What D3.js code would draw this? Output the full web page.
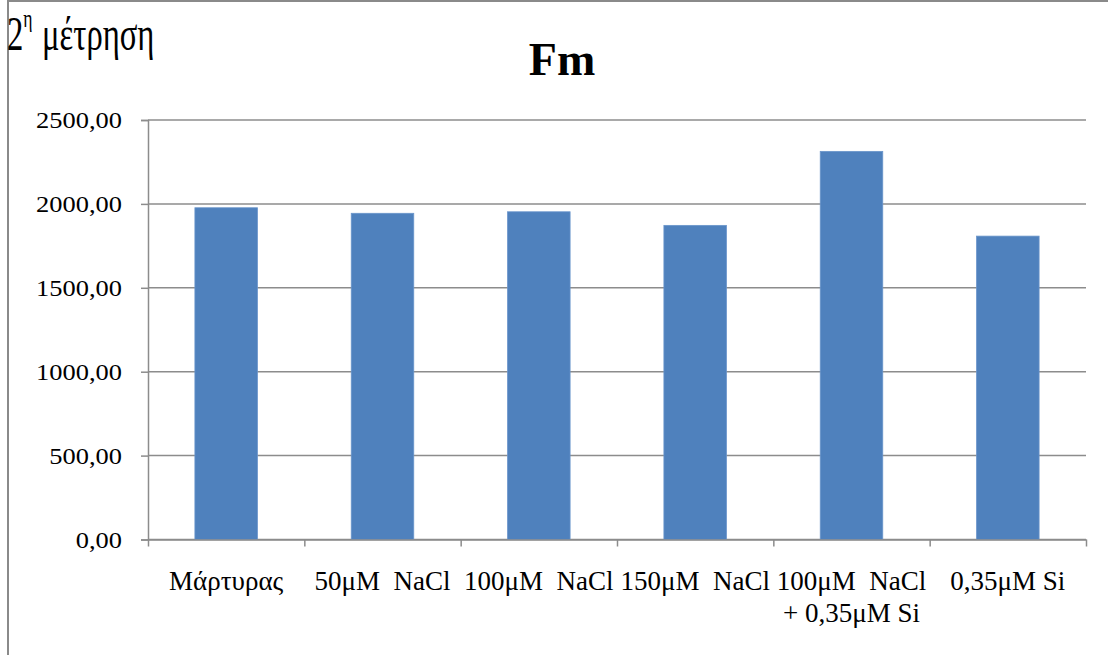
<!DOCTYPE html>
<html>
<head>
<meta charset="utf-8">
<script src="https://cdn.jsdelivr.net/npm/d3@7"></script>
<style>
  html, body { margin: 0; padding: 0; background: #fff; }
  svg { display: block; }
  text { font-family: "Liberation Serif", "Times New Roman", serif; fill: #000; }
</style>
</head>
<body>
<svg id="chart" width="1108" height="655"></svg>
<script>
// Fm values per treatment (second measurement)
const categories = ["Μάρτυρας", "50μM  NaCl", "100μM  NaCl", "150μM  NaCl", "100μM  NaCl + 0,35μM Si", "0,35μM Si"];
const categoryLines = [["Μάρτυρας"], ["50μM  NaCl"], ["100μM  NaCl"], ["150μM  NaCl"], ["100μM  NaCl", "+ 0,35μM Si"], ["0,35μM Si"]];
const fmValues = [1977, 1944, 1953, 1872, 2313, 1808];
const yTicks = [0, 500, 1000, 1500, 2000, 2500];
const chartTitle = "Fm";

const svg = d3.select("#chart");
const plot = { left: 148, right: 1086, top: 120, bottom: 539.5 };
const gridColor = "#8c8c8c";

// outer frame (top and left edges visible)
svg.append("path")
  .attr("d", "M8,655 L8,1 L1108,1")
  .attr("fill", "none")
  .attr("stroke", "#8a8a8a")
  .attr("stroke-width", 2);

const x = d3.scaleBand()
  .domain(categories)
  .range([plot.left, plot.right])
  .paddingInner(0.6)
  .paddingOuter(0.3);

const y = d3.scaleLinear()
  .domain([0, 2500])
  .range([plot.bottom, plot.top]);

// horizontal gridlines
svg.append("g")
  .selectAll("line")
  .data(yTicks)
  .join("line")
  .attr("x1", plot.left)
  .attr("x2", plot.right)
  .attr("y1", d => y(d))
  .attr("y2", d => y(d))
  .attr("stroke", gridColor)
  .attr("stroke-width", 1.5);

// y axis
const yAxis = svg.append("g")
  .attr("transform", `translate(${plot.left},0)`)
  .call(d3.axisLeft(y).tickValues(yTicks).tickSize(7).tickPadding(12)
    .tickFormat(d => d3.format(".2f")(d).replace(".", ",")));
yAxis.select(".domain").attr("stroke", gridColor).attr("stroke-width", 1.5);
yAxis.selectAll(".tick line").attr("stroke", gridColor).attr("stroke-width", 1.5);
yAxis.selectAll(".tick text")
  .style("font-family", "'Liberation Serif', serif")
  .style("font-size", "23px")
  .attr("dy", "0.34em")
  .attr("transform", "scale(1.15,1)")
  .attr("x", -26 / 1.15);

// bars
svg.append("g")
  .selectAll("rect")
  .data(fmValues)
  .join("rect")
  .attr("x", (d, i) => x(categories[i]))
  .attr("width", x.bandwidth())
  .attr("y", d => y(d))
  .attr("height", d => y(0) - y(d))
  .attr("fill", "#4f81bd")
  .attr("stroke", "#6a95cb")
  .attr("stroke-width", 0.8);

// x axis with tick marks at category boundaries
const xEdges = d3.scaleLinear().domain([0, categories.length]).range([plot.left, plot.right]);
const xAxis = svg.append("g")
  .attr("transform", `translate(0,${plot.bottom})`)
  .call(d3.axisBottom(xEdges).tickValues(d3.range(categories.length + 1)).tickSize(7).tickSizeOuter(0).tickFormat(""));
xAxis.select(".domain").attr("stroke", gridColor).attr("stroke-width", 1.5);
xAxis.selectAll(".tick line").attr("stroke", gridColor).attr("stroke-width", 1.5);

// category labels
const labels = svg.append("g")
  .selectAll("text")
  .data(categoryLines)
  .join("text")
  .attr("text-anchor", "middle")
  .attr("font-size", 27)
  .style("white-space", "pre")
  .attr("transform", (d, i) => `translate(${x(categories[i]) + x.bandwidth() / 2},590)`);
labels.selectAll("tspan")
  .data(d => d)
  .join("tspan")
  .attr("x", 0)
  .attr("y", (d, j) => j * 32)
  .text(d => d);

// chart title
svg.append("text")
  .attr("x", 562)
  .attr("y", 75)
  .attr("text-anchor", "middle")
  .attr("font-size", 46)
  .attr("font-weight", "bold")
  .text(chartTitle);

// measurement note in the top-left corner
const note = svg.append("text")
  .attr("transform", "translate(7,50) scale(0.68,1)")
  .attr("font-size", 48);
note.append("tspan").text("2");
note.append("tspan").attr("font-size", 26).attr("dy", -23).text("η");
note.append("tspan").attr("dy", 23).attr("dx", 14).text("μέτρηση");
</script>
</body>
</html>
